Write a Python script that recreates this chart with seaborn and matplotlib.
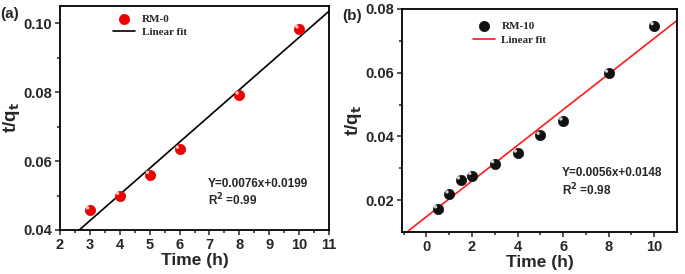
import numpy as np
import pandas as pd
import seaborn as sns
import matplotlib.pyplot as plt
import matplotlib.transforms as mtransforms

# --- data ---
time_a = [3, 4, 5, 6, 8, 10]
tq_a = [0.0458, 0.0500, 0.0561, 0.0634, 0.0791, 0.0983]
fit_a = (0.0076, 0.0199)        # slope, intercept
fit_a_x = [2.65, 11.0]

time_b = [0.5, 1, 1.5, 2, 3, 4, 5, 6, 8, 10]
tq_b = [0.0172, 0.0219, 0.0263, 0.0277, 0.0314, 0.0347, 0.0403, 0.0448, 0.0598, 0.0747]
fit_b = (0.0056, 0.0148)
fit_b_x = [-0.8, 11.0]

sns.set_style("ticks")
plt.rcParams['font.family'] = ['Liberation Sans', 'DejaVu Sans']
plt.rcParams['font.weight'] = 'bold'
plt.rcParams['axes.labelweight'] = 'bold'

fig = plt.figure(figsize=(6.85, 2.74), dpi=100)
ax_a = fig.add_axes([0.0876, 0.1606, 0.3927, 0.8175])
ax_b = fig.add_axes([0.5869, 0.1533, 0.4015, 0.8139])


def panel(ax, x, y, fit, fit_x, dot_col, hl_col, line_col, name):
    df = pd.DataFrame({'Time': x, 'tq': y})
    fx = np.array(fit_x)
    fit_df = pd.DataFrame({'Time': fx, 'tq': fit[0] * fx + fit[1]})
    sns.lineplot(data=fit_df, x='Time', y='tq', ax=ax, color=line_col, lw=1.2,
                 label='Linear fit', zorder=2)
    sns.scatterplot(data=df, x='Time', y='tq', ax=ax, color=dot_col, s=55,
                    edgecolor=dot_col, linewidth=0.5, label=name, zorder=3)
    # little highlight to look like a sphere
    off = mtransforms.ScaledTranslation(-1.6 / 72, 1.6 / 72, fig.dpi_scale_trans)
    ax.scatter(x, y, s=6, color=hl_col, edgecolor='none', zorder=4,
               transform=ax.transData + off)
    for sp in ax.spines.values():
        sp.set_visible(True)
        sp.set_linewidth(1.3)
        sp.set_color('black')
    ax.tick_params(which='both', direction='out', width=1.1, labelsize=10.5, pad=2)
    ax.tick_params(which='major', length=3.5)
    ax.tick_params(which='minor', length=2)
    ax.set_xlabel('Time (h)', fontsize=12.5, labelpad=1)
    ax.set_ylabel('t/q$_\\mathbf{t}$', fontsize=13.5, labelpad=1)
    h, l = ax.get_legend_handles_labels()
    order = [l.index(name), l.index('Linear fit')]
    return [h[i] for i in order], [l[i] for i in order]


h, l = panel(ax_a, time_a, tq_a, fit_a, fit_a_x, '#ee0000', '#ffc8c8', 'black', 'RM-0')
ax_a.set_xlim(2, 11)
ax_a.set_ylim(0.04, 0.105)
ax_a.set_xticks(range(2, 12))
ax_a.set_xticks(np.arange(2.5, 11, 1), minor=True)
ax_a.set_yticks([0.04, 0.06, 0.08, 0.10])
ax_a.set_yticks([0.05, 0.07, 0.09], minor=True)
ax_a.set_yticklabels(['0.04', '0.06', '0.08', '0.10'])
ax_a.legend(h, l, loc='upper left', bbox_to_anchor=(0.16, 1.01), frameon=False,
            prop={'family': 'Liberation Serif', 'weight': 'bold', 'size': 8},
            handlelength=2.0, handletextpad=0.6, labelspacing=0.35)
ax_a.text(6.95, 0.0534, 'Y=0.0076x+0.0199', fontsize=8.5, fontweight='bold', va='center')
ax_a.text(6.95, 0.0487, 'R$^\\mathbf{2}$ =0.99', fontsize=8.5, fontweight='bold', va='center')

h, l = panel(ax_b, time_b, tq_b, fit_b, fit_b_x, '#111111', '#d0d0d0', '#ff1a1a', 'RM-10')
ax_b.set_xlim(-1.07, 11)
ax_b.set_ylim(0.01, 0.08)
ax_b.set_xticks(range(0, 11, 2))
ax_b.set_xticks([-1, 1, 3, 5, 7, 9], minor=True)
ax_b.set_yticks([0.02, 0.04, 0.06, 0.08])
ax_b.set_yticks([0.03, 0.05, 0.07], minor=True)
ax_b.set_yticklabels(['0.02', '0.04', '0.06', '0.08'])
ax_b.legend(h, l, loc='upper left', bbox_to_anchor=(0.22, 0.99), frameon=False,
            prop={'family': 'Liberation Serif', 'weight': 'bold', 'size': 8},
            handlelength=2.0, handletextpad=0.6, labelspacing=0.35)
ax_b.text(5.95, 0.0284, 'Y=0.0056x+0.0148', fontsize=8.5, fontweight='bold', va='center')
ax_b.text(5.95, 0.0232, 'R$^\\mathbf{2}$ =0.98', fontsize=8.5, fontweight='bold', va='center')

fig.text(0.001, 0.975, '(a)', fontsize=11, fontweight='bold', va='top')
fig.text(0.499, 0.968, '(b)', fontsize=11, fontweight='bold', va='top')

fig.savefig('out.png', dpi=100)
